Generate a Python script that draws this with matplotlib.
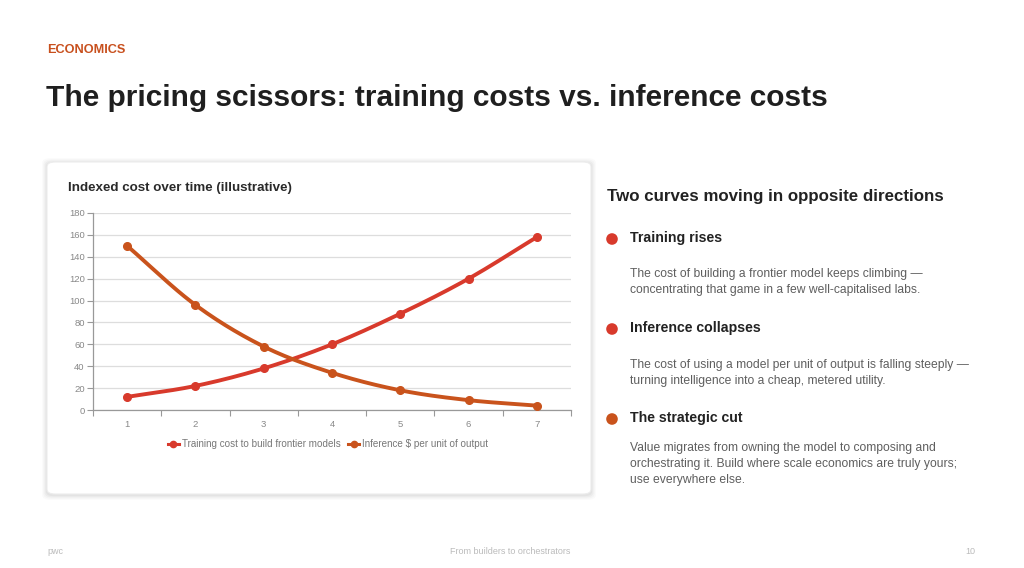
import numpy as np
import matplotlib
matplotlib.use("Agg")
import matplotlib.pyplot as plt
from matplotlib.patches import FancyBboxPatch, Circle
from matplotlib.lines import Line2D

plt.rcParams['font.family'] = ['Liberation Sans', 'DejaVu Sans']

# ---- data ----
periods = [1, 2, 3, 4, 5, 6, 7]
training_cost = [12, 22, 38, 60, 88, 120, 158]
inference_cost = [150, 96, 58, 34, 18, 9, 4]
series_names = ["Training cost to build frontier models", "Inference $ per unit of output"]
y_ticks = [0, 20, 40, 60, 80, 100, 120, 140, 160, 180]

RED = "#d83a2c"
ORANGE = "#c9531c"

W, H = 1024, 568
fig = plt.figure(figsize=(W / 100, H / 100), dpi=100)
fig.patch.set_facecolor("white")

def fx(px):
    return px / W

def fy(py):
    return 1 - py / H

# header
fig.text(fx(47), fy(50), "ECONOMICS", color="#c8501e", fontsize=9.2, fontweight="bold", va="center")
fig.text(fx(46), fy(98), "The pricing scissors: training costs vs. inference costs",
         color="#1f1f1f", fontsize=21.5, fontweight="bold", va="center")

# card with shadow
cx0, cy0, cx1, cy1 = 47, 162, 591, 494
for i, a in enumerate([0.035, 0.03, 0.025, 0.02]):
    d = (i + 1) * 1.2
    fig.patches.append(FancyBboxPatch((fx(cx0 - d), fy(cy1 + d + 1)), fx(cx1 - cx0 + 2 * d), (cy1 - cy0 + 2 * d) / H,
                                      boxstyle="round,pad=0,rounding_size=0.008", transform=fig.transFigure,
                                      facecolor="black", edgecolor="none", alpha=a, zorder=0))
fig.patches.append(FancyBboxPatch((fx(cx0), fy(cy1)), fx(cx1 - cx0), (cy1 - cy0) / H,
                                  boxstyle="round,pad=0,rounding_size=0.008", transform=fig.transFigure,
                                  facecolor="white", edgecolor="#ececec", linewidth=0.8, zorder=1))

fig.text(fx(68), fy(188), "Indexed cost over time (illustrative)", color="#2a2a2a",
         fontsize=9.6, fontweight="bold", va="center", zorder=3)

# chart axes
ax = fig.add_axes([fx(93), fy(410), fx(571 - 93), (410 - 213) / H], zorder=2)
ax.set_facecolor("none")


def smooth(xs, ys, n=30):
    xs = np.asarray(xs, float)
    ys = np.asarray(ys, float)
    px = np.concatenate([[2 * xs[0] - xs[1]], xs, [2 * xs[-1] - xs[-2]]])
    py = np.concatenate([[2 * ys[0] - ys[1]], ys, [2 * ys[-1] - ys[-2]]])
    ox, oy = [], []
    t = np.linspace(0, 1, n, endpoint=False)
    for i in range(1, len(px) - 2):
        for arr, out in ((px, ox), (py, oy)):
            p0, p1, p2, p3 = arr[i - 1], arr[i], arr[i + 1], arr[i + 2]
            out.extend(0.5 * ((2 * p1) + (-p0 + p2) * t + (2 * p0 - 5 * p1 + 4 * p2 - p3) * t ** 2
                              + (-p0 + 3 * p1 - 3 * p2 + p3) * t ** 3))
    ox.append(xs[-1])
    oy.append(ys[-1])
    return np.array(ox), np.array(oy)


for vals, col in ((training_cost, RED), (inference_cost, ORANGE)):
    sx, sy = smooth(periods, vals)
    ax.plot(sx, sy, color=col, lw=2.8, solid_capstyle="round", zorder=3)
    ax.plot(periods, vals, "o", color=col, ms=5.5, zorder=4)

ax.set_xlim(0.5, 7.5)
ax.set_ylim(0, 180)
ax.set_yticks(y_ticks)
ax.set_xticks(periods)
ax.set_xticks(np.arange(0.5, 8, 1), minor=True)
ax.tick_params(axis="x", which="major", length=0, pad=7, labelsize=6.8, labelcolor="#888888")
ax.tick_params(axis="x", which="minor", length=4, color="#999999", width=0.8)
ax.tick_params(axis="y", length=4, color="#999999", width=0.8, pad=2, labelsize=6.8, labelcolor="#888888")
ax.grid(axis="y", color="#dddddd", lw=0.9)
ax.set_axisbelow(True)
for s in ("top", "right"):
    ax.spines[s].set_visible(False)
for s in ("left", "bottom"):
    ax.spines[s].set_color("#999999")
    ax.spines[s].set_linewidth(0.9)

handles = [Line2D([], [], color=RED, lw=2.2, marker="o", ms=4.5),
           Line2D([], [], color=ORANGE, lw=2.2, marker="o", ms=4.5)]
fig.legend(handles, series_names, loc="center", bbox_to_anchor=(fx(328), fy(444)), ncol=2,
           frameon=False, fontsize=7.1, labelcolor="#777777", handlelength=1.1, handletextpad=0.3,
           columnspacing=0.8)

# right panel
fig.text(fx(607), fy(196), "Two curves moving in opposite directions", color="#222222",
         fontsize=12.2, fontweight="bold", va="center")

items = [
    ("Training rises", RED, 238,
     "The cost of building a frontier model keeps climbing \u2014\nconcentrating that game in a few well-capitalised labs.", 282),
    ("Inference collapses", RED, 328,
     "The cost of using a model per unit of output is falling steeply \u2014\nturning intelligence into a cheap, metered utility.", 373),
    ("The strategic cut", ORANGE, 418,
     "Value migrates from owning the model to composing and\norchestrating it. Build where scale economics are truly yours;\nuse everywhere else.", 464),
]
for head, col, yh, body, yb in items:
    c = Circle((612 / 100, (H - yh - 1) / 100), 0.058, transform=fig.dpi_scale_trans,
               facecolor=col, edgecolor="none")
    fig.patches.append(c)
    fig.text(fx(630), fy(yh), head, color="#222222", fontsize=10.2, fontweight="bold", va="center")
    fig.text(fx(630), fy(yb), body, color="#5f5f5f", fontsize=8.7, va="center", linespacing=1.42)

# footer
fig.text(fx(47), fy(551), "pwc", color="#bbbbbb", fontsize=6.5, va="center")
fig.text(fx(510), fy(551), "From builders to orchestrators", color="#bbbbbb", fontsize=6.5,
         va="center", ha="center")
fig.text(fx(975), fy(551), "10", color="#bbbbbb", fontsize=6.5, va="center", ha="right")

fig.savefig("out.png", dpi=100, facecolor="white")
